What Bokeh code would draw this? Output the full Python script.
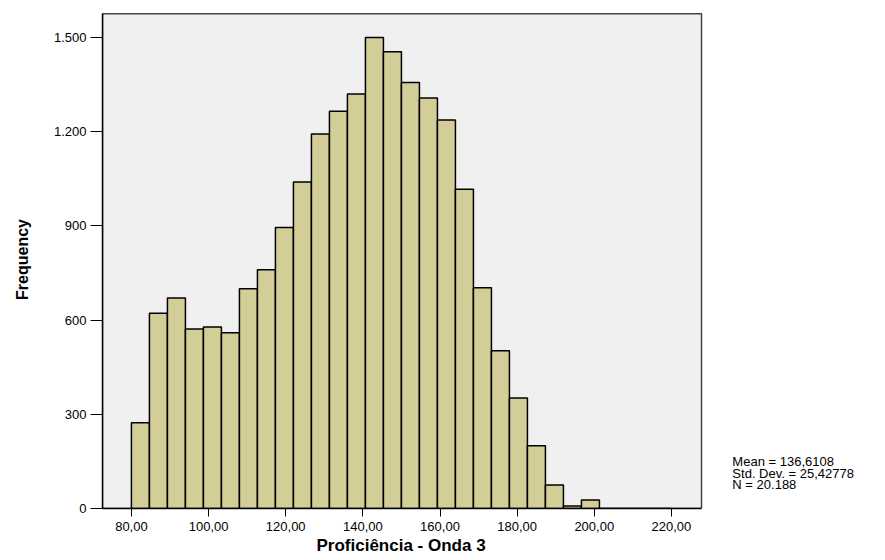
from bokeh.plotting import figure
from bokeh.models import Range1d, FixedTicker, Title
from bokeh.core.properties import value
from bokeh.embed import file_html
from bokeh.resources import INLINE

# ---- data ----
bin_start = 80.0
bin_end = 220.0
counts = [273, 622, 670, 572, 578, 560, 700, 760, 895, 1040,
          1193, 1265, 1320, 1500, 1455, 1357, 1307, 1237, 1017, 703,
          502, 352, 200, 75, 8, 27, 0, 0, 0, 0]
x_ticks = [80, 100, 120, 140, 160, 180, 200, 220]
x_tick_labels = ["80,00", "100,00", "120,00", "140,00", "160,00", "180,00", "200,00", "220,00"]
y_ticks = [0, 300, 600, 900, 1200, 1500]
y_tick_labels = ["0", "300", "600", "900", "1.200", "1.500"]
stats_lines = ["Mean = 136,6108", "Std. Dev. = 25,42778", "N = 20.188"]
x_title = "Proficiência - Onda 3"
y_title = "Frequency"

n = len(counts)
w = (bin_end - bin_start) / n
lefts = [bin_start + i * w for i in range(n)]
rights = [bin_start + (i + 1) * w for i in range(n)]

FONT = "Liberation Sans"

# plot-area extents (data units); the canvas range is wider to hold the stats text
PX0, PX1 = 72.5, 227.8
PY1 = 1576
p = figure(width=885, height=560, output_backend="svg", toolbar_location=None,
           x_range=Range1d(PX0, 275.5), y_range=Range1d(0, 1586),
           min_border_left=102, min_border_right=0, min_border_top=10,
           min_border_bottom=52)
p.background_fill_color = "white"
p.border_fill_color = "white"
p.outline_line_color = None
p.grid.visible = False

# plot area panel
p.quad(left=[PX0], right=[PX1], bottom=[0], top=[PY1],
       fill_color="#F0F0F0", line_color="#444444", line_width=1.5)

# histogram bars
p.quad(left=lefts, right=rights, bottom=0, top=counts,
       fill_color="#D3CE97", line_color="black", line_width=1.5)

# axes
p.xaxis.ticker = FixedTicker(ticks=x_ticks)
p.xaxis.major_label_overrides = dict(zip(x_ticks, x_tick_labels))
p.yaxis.ticker = FixedTicker(ticks=y_ticks)
p.yaxis.major_label_overrides = dict(zip(y_ticks, y_tick_labels))
p.xaxis.bounds = (PX0, PX1)
p.yaxis.bounds = (0, PY1)
for ax in (p.xaxis, p.yaxis):
    ax.minor_tick_line_color = None
    ax.major_tick_in = 0
    ax.axis_line_color = "black"
    ax.axis_line_width = 1.5
    ax.major_tick_line_color = "black"
    ax.major_label_text_font = FONT
    ax.major_label_text_font_size = "13px"
    ax.major_label_text_color = "black"
    ax.axis_label_text_font = FONT
    ax.axis_label_text_font_style = "bold"
    ax.axis_label_text_color = "black"
p.xaxis.major_tick_out = 8
p.yaxis.major_tick_out = 12
p.xaxis.major_label_standoff = 5
p.yaxis.major_label_standoff = 4
p.yaxis.axis_label = y_title
p.yaxis.axis_label_text_font_size = "16px"
p.yaxis.axis_label_standoff = 20

# x-axis title, centred under the plot area (not under the wider canvas)
p.add_layout(Title(text=x_title, align="left", offset=214, standoff=0,
                   text_font=FONT, text_font_style="bold",
                   text_font_size="17px", text_color="black"), "below")

# statistics text (right of the plot area)
stat_y = [150, 113, 76]
p.text(x=[235.8] * len(stats_lines), y=stat_y, text=stats_lines,
       text_font=value(FONT), text_font_size="13px",
       text_baseline="middle", text_align="left", text_color="black")

open("out.html", "w").write(file_html(p, INLINE))
